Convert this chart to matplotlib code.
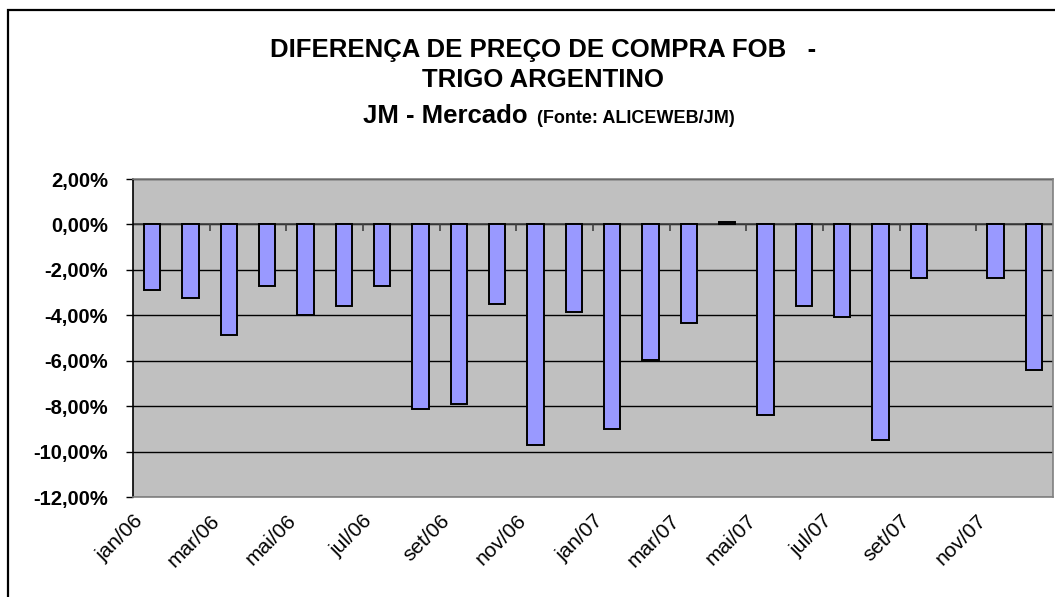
import matplotlib
matplotlib.use("Agg")
import matplotlib.pyplot as plt
import numpy as np
from matplotlib.patches import Rectangle

months = ["jan/06", "fev/06", "mar/06", "abr/06", "mai/06", "jun/06",
          "jul/06", "ago/06", "set/06", "out/06", "nov/06", "dez/06",
          "jan/07", "fev/07", "mar/07", "abr/07", "mai/07", "jun/07",
          "jul/07", "ago/07", "set/07", "out/07", "nov/07", "dez/07"]
diff_pct = [-2.88, -3.25, -4.88, -2.69, -4.00, -3.59,
            -2.69, -8.12, -7.91, -3.50, -9.71, -3.87,
            -9.01, -5.99, -4.34, 0.09, -8.38, -3.59,
            -4.07, -9.50, -2.35, np.nan, -2.35, -6.41]
yticks = [2, 0, -2, -4, -6, -8, -10, -12]

plt.rcParams['font.family'] = ['Liberation Sans', 'DejaVu Sans']

W, H = 1055, 597
fig = plt.figure(figsize=(W / 100, H / 100), dpi=100)
fig.patch.set_facecolor('white')

# outer chart border
fig.add_artist(Rectangle((8 / W, -0.1), 1.2, 1 - 10 / H + 0.1,
                         transform=fig.transFigure, fill=False,
                         edgecolor='black', linewidth=1.6))

ax = fig.add_axes([133 / W, 1 - 497 / H, (1053 - 133) / W, (497 - 179) / H])
ax.set_facecolor('#C0C0C0')

x = np.arange(len(months))
ax.bar(x, diff_pct, width=0.42, color='#9999FF', edgecolor='black',
       linewidth=1.4, zorder=3)

ax.set_xlim(-0.5, len(months) - 0.5)
ax.set_ylim(-12, 2)
ax.set_yticks(yticks)
ax.set_yticklabels([("%.2f" % v).replace('.', ',') + '%' for v in yticks],
                   fontsize=14.5, fontweight='bold')
ax.yaxis.grid(True, color='black', linewidth=1.0, zorder=1)
ax.set_axisbelow(True)
ax.tick_params(axis='y', direction='out', length=5, width=1,
               color='black', pad=13)

# category axis labels every 2 months, at category boundaries
lab_pos = np.arange(0, len(months), 2) - 0.5
ax.set_xticks(lab_pos)
ax.set_xticklabels(months[::2], rotation=45, ha='right', va='top',
                   rotation_mode='anchor', fontsize=15)
ax.tick_params(axis='x', length=0, pad=10)

# category axis line at zero, with tick marks
ax.axhline(0, color='#404040', linewidth=1.2, zorder=2)
ax.vlines(lab_pos[1:], 0, -0.3, color='#404040', linewidth=1.2, zorder=2)

for side in ['top', 'right', 'bottom']:
    ax.spines[side].set_color('#808080')
    ax.spines[side].set_linewidth(1.2)
ax.spines['left'].set_color('black')
ax.spines['left'].set_linewidth(1.2)

# titles
cx = 543 / W
fig.text(cx, 1 - 57 / H, "DIFERENÇA DE PREÇO DE COMPRA FOB   -",
         ha='center', va='baseline', fontsize=18.5, fontweight='bold')
fig.text(cx, 1 - 87 / H, "TRIGO ARGENTINO",
         ha='center', va='baseline', fontsize=18.5, fontweight='bold')
fig.text(363 / W, 1 - 123 / H, "JM - Mercado",
         ha='left', va='baseline', fontsize=18.5, fontweight='bold')
fig.text(537 / W, 1 - 123 / H, "(Fonte: ALICEWEB/JM)",
         ha='left', va='baseline', fontsize=13, fontweight='bold')

fig.savefig("out.png", dpi=100)
